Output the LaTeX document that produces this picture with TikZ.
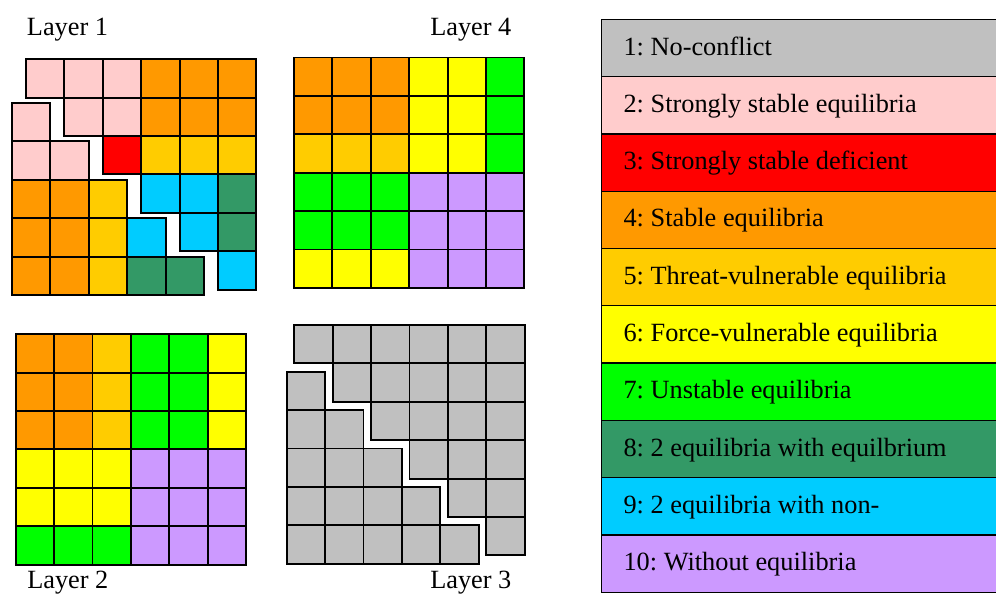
\documentclass[tikz,border=0pt]{standalone}
\usepackage{fontspec}
\setmainfont{Liberation Serif}
\frenchspacing
\usepackage{tikz}
\tikzstyle{cell} = [draw=black, line width=1.4pt]
\tikzstyle{lbl} = [inner sep=0pt, anchor=base west, font=\fontsize{19.5}{23}\selectfont]
\tikzstyle{legrow} = [draw=black, line width=1pt]

\definecolor{k1}{HTML}{C0C0C0}
\definecolor{k2}{HTML}{FFCCCC}
\definecolor{k3}{HTML}{FF0000}
\definecolor{k4}{HTML}{FF9900}
\definecolor{k5}{HTML}{FFCC00}
\definecolor{k6}{HTML}{FFFF00}
\definecolor{k7}{HTML}{00FF00}
\definecolor{k8}{HTML}{339966}
\definecolor{k9}{HTML}{00CCFF}
\definecolor{k10}{HTML}{CC99FF}

% 6x6 layer, #1,#2 = corner of the upper part, #3,#4 = corner of the cells below the diagonal
\newcommand{\layer}[5]{%
  \foreach \row [count=\i from 0] in {#5} {
    \foreach \c [count=\j from 0] in \row {
      \ifnum\j<\i
        \draw[cell, fill=k\c] (#3+\j,#4-\i) rectangle ++(1,-1);
      \else
        \draw[cell, fill=k\c] (#1+\j,#2-\i) rectangle ++(1,-1);
      \fi
    }
  }%
}

\begin{document}
\begin{tikzpicture}
  \clip (0,0) rectangle (25.9375,15.443);

  % layer 1 (split)
  \layer{0.677}{13.90}{0.3125}{13.76}{{2,2,2,4,4,4},{2,2,2,4,4,4},{2,2,3,5,5,5},{4,4,5,9,9,8},{4,4,5,9,9,8},{4,4,5,8,8,9}}
  % layer 4
  \layer{7.656}{13.945}{7.656}{13.945}{{4,4,4,6,6,7},{4,4,4,6,6,7},{5,5,5,6,6,7},{7,7,7,10,10,10},{7,7,7,10,10,10},{6,6,6,10,10,10}}
  % layer 2
  \layer{0.409}{6.74}{0.409}{6.74}{{4,4,5,7,7,6},{4,4,5,7,7,6},{4,4,5,7,7,6},{6,6,6,10,10,10},{6,6,6,10,10,10},{7,7,7,10,10,10}}
  % layer 3 (split)
  \layer{7.664}{6.979}{7.466}{6.763}{{1,1,1,1,1,1},{1,1,1,1,1,1},{1,1,1,1,1,1},{1,1,1,1,1,1},{1,1,1,1,1,1},{1,1,1,1,1,1}}

  \node (L1) [lbl] at (0.695,14.531) {Layer 1};
  \node (L4) [lbl] at (11.198,14.531) {Layer 4};
  \node (L2) [lbl] at (0.703,0.130) {Layer 2};
  \node (L3) [lbl] at (11.198,0.130) {Layer 3};

  % legend
  \foreach \txt [count=\n] in {1: No-conflict, 2: Strongly stable equilibria, 3: Strongly stable deficient,
      4: Stable equilibria, 5: Threat-vulnerable equilibria, 6: Force-vulnerable equilibria,
      7: Unstable equilibria, 8: 2 equilibria with equilbrium, 9: 2 equilibria with non-,
      10: Without equilibria} {
    \draw[legrow, fill=k\n] (15.669,{14.940-(\n-1)*1.492}) rectangle (26.5,{14.940-\n*1.492});
    \node (leg\n) [lbl] at (16.232,{14.940-(\n-1)*1.492-0.93}) {\txt};
  }
\end{tikzpicture}
\end{document}
